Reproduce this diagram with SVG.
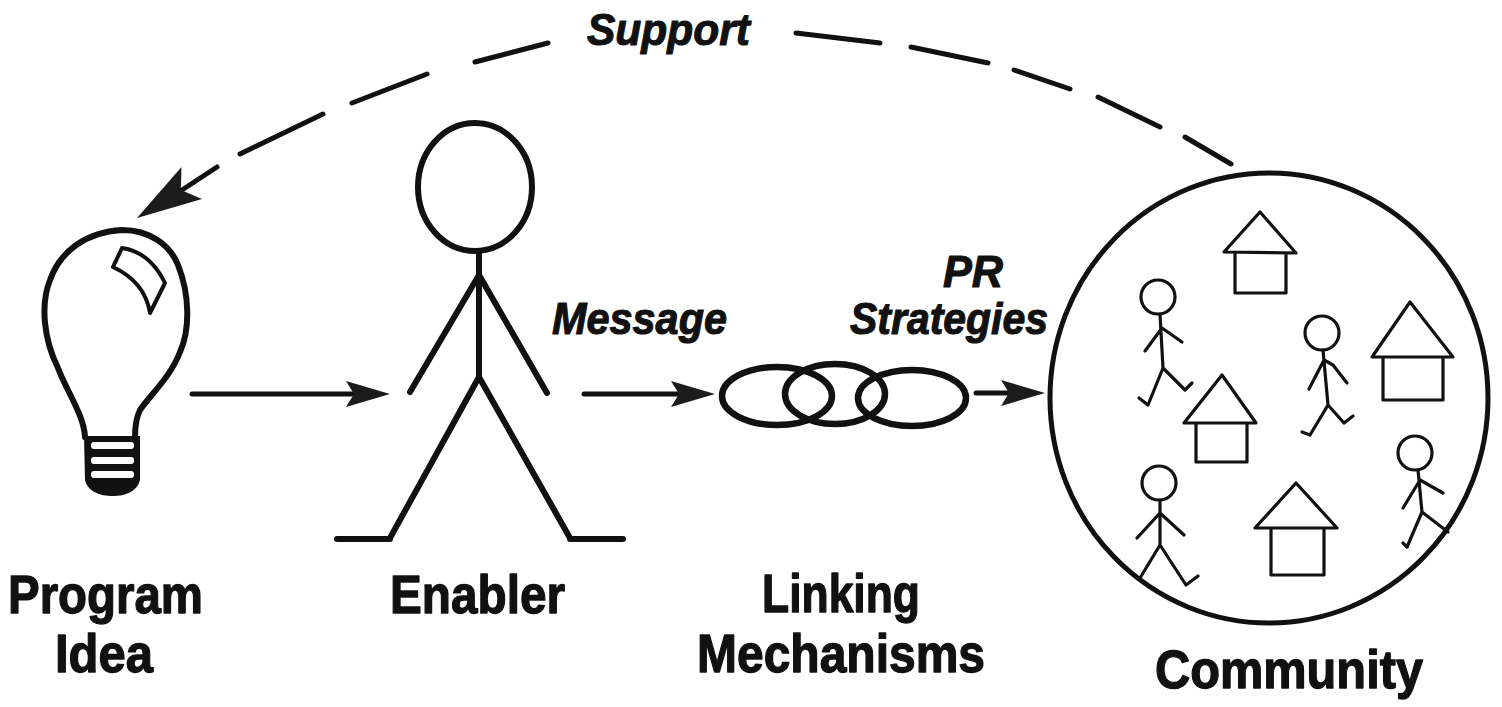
<svg xmlns="http://www.w3.org/2000/svg" width="1502" height="707" viewBox="0 0 1502 707">
  <style>
    .ink { fill: none; stroke: #111; stroke-linecap: round; stroke-linejoin: round; }
    .bold { stroke-width: 6; }
    .thin { stroke-width: 3.2; }
    .dash { fill: none; stroke: #111; stroke-width: 5; stroke-linecap: round; }
    .name { font-family: "Liberation Sans", Arial, sans-serif; font-weight: bold; font-size: 54px; fill: #111; stroke: #111; stroke-width: 1.3; stroke-linejoin: round; }
    .tag { font-family: "Liberation Sans", Arial, sans-serif; font-weight: bold; font-style: italic; font-size: 45px; fill: #111; stroke: #111; stroke-width: 1.1; stroke-linejoin: round; }
    .head { fill: #1c1c1c; }
  </style>
  <defs>
    <!-- stealth arrowhead, origin at the notch so the shaft stops under the head -->
    <marker id="stealth" markerUnits="userSpaceOnUse" markerWidth="50" markerHeight="32" viewBox="-10 -16 50 32" refX="0" refY="0" orient="auto">
      <path class="head" d="M36,0 L-8,-13 L0,0 L-8,13 Z"/>
    </marker>
  </defs>
  <rect width="1502" height="707" fill="#fff"/>

  <!-- Program Idea: light bulb -->
  <g id="node-idea">
    <path class="ink bold" d="M85,437 C84,415 66,390 58,368 C44,340 40,305 50,280 C60,252 85,232 122,230 C150,230 170,245 178,265 C190,295 190,330 180,352 C170,378 150,395 140,410 C136,418 135,428 135,437"/>
    <path d="M84,436 L140,436 L140,480 C137,492 125,496 113,496 C100,496 88,492 85,480 Z" fill="#111"/>
    <rect x="91" y="442" width="43" height="7" rx="3" fill="#fff"/>
    <rect x="91" y="457" width="43" height="7" rx="3" fill="#fff"/>
    <rect x="91" y="471" width="43" height="7" rx="3" fill="#fff"/>
    <path class="ink" stroke-width="4" fill="#fff" d="M113,267 L122,248 Q150,252 165,283 L150,313 Q145,282 113,267 Z"/>
    <text class="name" x="8" y="613" textLength="195" lengthAdjust="spacingAndGlyphs">Program</text>
    <text class="name" x="55" y="672" textLength="98" lengthAdjust="spacingAndGlyphs">Idea</text>
  </g>

  <!-- Enabler: stick figure -->
  <g id="node-enabler">
    <ellipse class="ink bold" cx="475" cy="187" rx="57" ry="64"/>
    <path class="ink bold" d="M479,251 L479,377 M479,275 L410,392 M479,275 L547,393 M479,377 L390,538 M479,377 L570,538 M337,539 L390,539 M570,539 L623,539"/>
    <text class="name" x="390" y="613" textLength="175" lengthAdjust="spacingAndGlyphs">Enabler</text>
  </g>

  <!-- Linking Mechanisms: three linked rings -->
  <g id="node-linking">
    <ellipse class="ink" stroke-width="6.5" cx="777" cy="396" rx="55" ry="29"/>
    <ellipse class="ink" stroke-width="6.5" cx="835" cy="394" rx="50" ry="30"/>
    <ellipse class="ink" stroke-width="6.5" cx="912" cy="398" rx="54" ry="28"/>
    <text class="name" x="762" y="612" textLength="158" lengthAdjust="spacingAndGlyphs">Linking</text>
    <text class="name" x="697" y="672" textLength="288" lengthAdjust="spacingAndGlyphs">Mechanisms</text>
  </g>

  <!-- Community: houses and walkers inside a circle -->
  <g id="node-community">
    <ellipse class="ink" stroke-width="5" cx="1269" cy="398" rx="219" ry="225"/>
    <!-- houses -->
    <g class="ink thin">
      <path d="M1224,252 L1260,212 L1296,253 Z M1235,253 L1235,293 L1286,293 L1286,253"/>
      <path d="M1372,357 L1410,302 L1453,357 Z M1383,357 L1383,400 L1443,400 L1443,357"/>
      <path d="M1184,423 L1222,375 L1256,423 Z M1196,423 L1196,462 L1247,462 L1247,423"/>
      <path d="M1255,528 L1296,483 L1337,528 Z M1271,528 L1271,575 L1324,575 L1324,528"/>
    </g>
    <!-- walkers -->
    <g class="ink thin">
      <circle cx="1158" cy="297" r="17"/>
      <path d="M1160,314 L1163,368 M1162,328 L1145,351 M1162,328 L1182,342 M1163,368 L1148,405 M1148,405 L1139,398 M1163,368 L1185,390 M1185,390 L1192,383"/>
      <circle cx="1322" cy="333" r="17"/>
      <path d="M1323,350 L1328,405 M1324,360 L1309,389 M1324,360 L1333,365 L1347,383 M1328,405 L1310,435 M1310,435 L1302,432 M1328,405 L1344,423 M1344,423 L1353,416"/>
      <circle cx="1159" cy="483" r="17"/>
      <path d="M1160,500 L1160,545 M1160,513 L1137,538 M1160,513 L1184,535 M1160,545 L1140,578 M1160,545 L1186,585 M1186,585 L1198,576"/>
      <circle cx="1415" cy="453" r="17"/>
      <path d="M1418,470 L1422,512 M1420,480 L1403,508 M1420,480 L1443,493 M1422,512 L1407,547 M1407,547 L1403,543 M1422,512 L1448,532"/>
    </g>
    <text class="name" x="1155" y="688" textLength="268" lengthAdjust="spacingAndGlyphs">Community</text>
  </g>

  <!-- connectors and their labels -->
  <g id="connectors">
    <line class="ink" stroke-width="5" x1="192" y1="394" x2="354" y2="394" marker-end="url(#stealth)"/>
    <line class="ink" stroke-width="5" x1="584" y1="394" x2="679" y2="394" marker-end="url(#stealth)"/>
    <line class="ink" stroke-width="5" x1="976" y1="393" x2="1009" y2="393" marker-end="url(#stealth)"/>

    <!-- dashed feedback arc from the community back to the idea -->
    <path class="dash" d="M1231,164 L1185,137 M1160,127 L1098,97 M1070,89 L1014,70 M988,63 L911,47 M880,43 L796,33 M548,43 L475,62 M427,74 L352,103 M323,114 L240,154 M217,167 L182,190"/>
    <polygon class="head" points="137,218 181.5,167 180.8,190 202,199"/>

    <text class="tag" x="587" y="45" textLength="163" lengthAdjust="spacingAndGlyphs">Support</text>
    <text class="tag" x="552" y="334" textLength="175" lengthAdjust="spacingAndGlyphs">Message</text>
    <text class="tag" x="943" y="287" textLength="60" lengthAdjust="spacingAndGlyphs">PR</text>
    <text class="tag" x="850" y="334" textLength="198" lengthAdjust="spacingAndGlyphs">Strategies</text>
  </g>
</svg>
